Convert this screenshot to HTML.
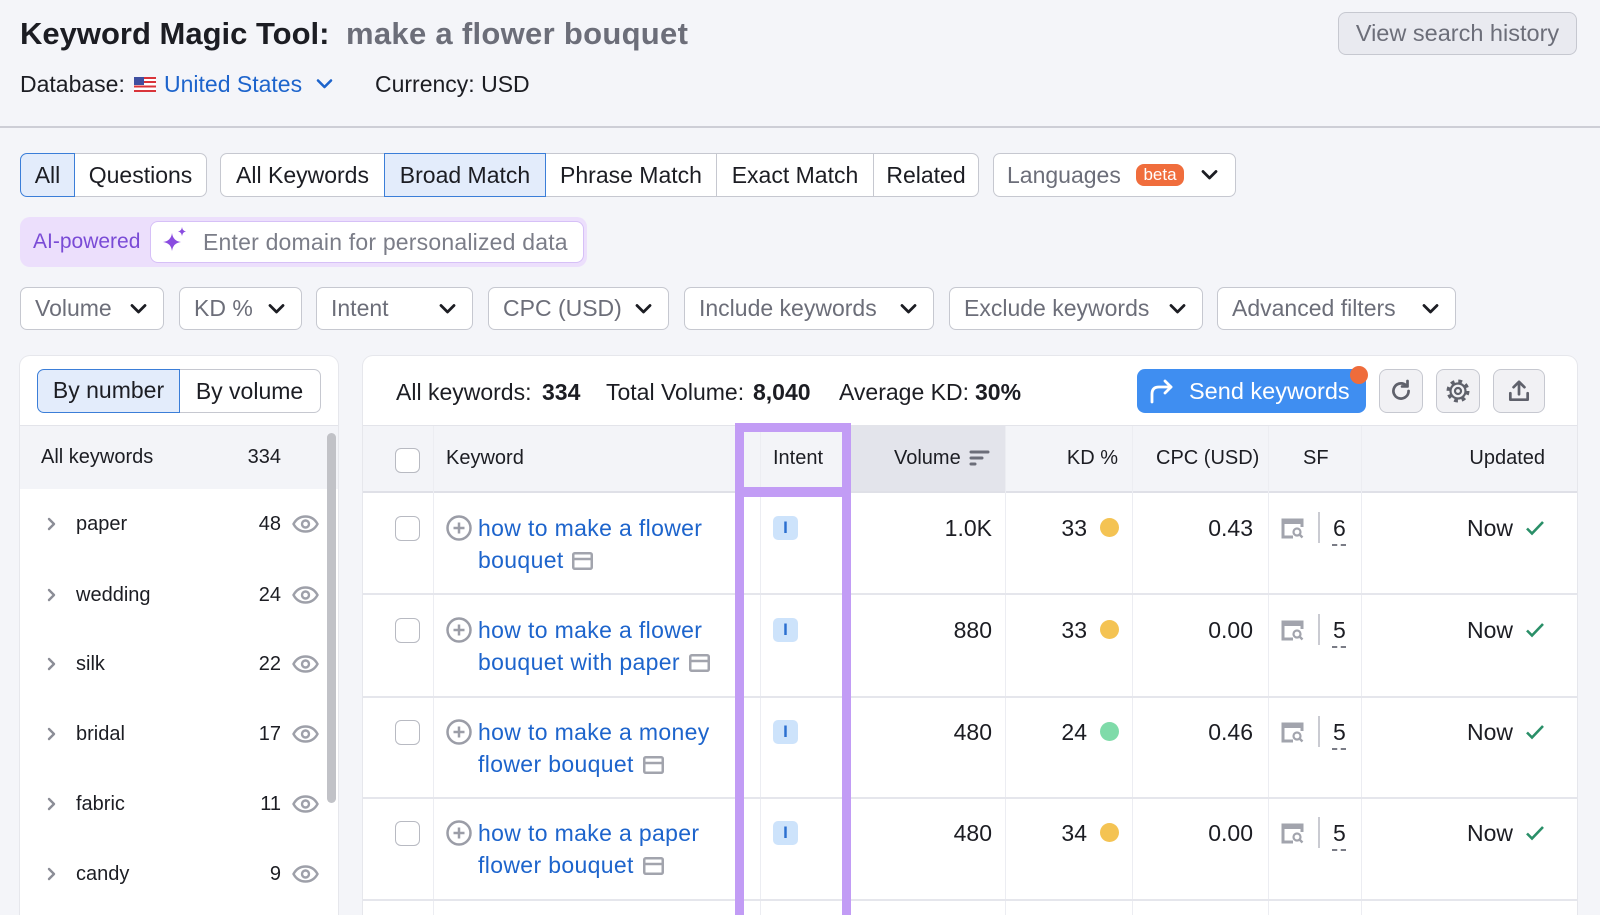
<!DOCTYPE html>
<html><head><meta charset="utf-8">
<style>
*{box-sizing:border-box;margin:0;padding:0}
html,body{width:1600px;height:915px;overflow:hidden;background:#f4f5f9;font-family:"Liberation Sans",Arial,sans-serif;color:#1c1d23}
#w{position:relative;width:1600px;height:915px;overflow:hidden}
.a{position:absolute;white-space:nowrap}
.t23{font-size:23px;height:30px;line-height:30px}
.t20{font-size:20px;height:28px;line-height:28px}
.g{color:#6c6e79}
.bl{color:#1d64cc}
.seg{position:absolute;top:153px;height:44px;background:#fff;border:1px solid #c6c8d0;font-size:23px;line-height:42px;text-align:center;white-space:nowrap}
.sel{background:#e3ecfb;border-color:#3b7ed8;z-index:2}
.fb{position:absolute;top:287px;height:43px;background:#fff;border:1px solid #c6c8d0;border-radius:7px;font-size:23px;line-height:41px;color:#6c6e79;padding-left:14px;white-space:nowrap}
.fb svg{position:absolute;right:16px;top:15px}
.cb{position:absolute;width:25px;height:25px;border:1.5px solid #b8bac2;border-radius:6px;background:#fff}
.vl{position:absolute;top:426px;width:1px;height:489px;background:#ecedf2}
.hl{position:absolute;left:363px;width:1214px;height:2px;background:#e5e6ec}
.ra{text-align:right;width:100px}
.badge{position:absolute;width:25px;height:24px;background:#cde3fb;border-radius:5px;color:#2b6fd0;font-weight:bold;font-size:17px;line-height:24px;text-align:center}
.dot{position:absolute;width:19px;height:19px;border-radius:50%}
.sfd{position:absolute;width:2px;height:31px;background:#cacbd2}
.dash{position:absolute;width:14px;border-top:2px dashed #7a7c86}
.ib{position:absolute;top:369px;height:44px;background:#f1f1f4;border:1px solid #c6c8d0;border-radius:8px}
.ib svg{position:absolute;left:50%;top:50%;transform:translate(-50%,-50%)}
</style></head><body><div id="w">

<!-- header -->
<div class="a" style="left:20px;top:16px;font-size:31px;font-weight:bold;line-height:36px;height:36px">Keyword Magic Tool:</div>
<div class="a g" style="left:346px;top:16px;font-size:31px;font-weight:bold;line-height:36px;height:36px;letter-spacing:0.3px">make a flower bouquet</div>
<div class="a" style="left:1338px;top:12px;width:239px;height:43px;background:#e9eaf0;border:1px solid #c6c8d0;border-radius:8px;text-align:center;font-size:23.5px;line-height:41px;color:#6c6e79">View search history</div>

<div class="a t23" style="left:20px;top:69px">Database:</div>
<svg class="a" style="left:134px;top:77px" width="22" height="15" viewBox="0 0 22 15">
<rect width="22" height="15" fill="#fff"/>
<g fill="#d9343a"><rect y="0" width="22" height="2"/><rect y="4" width="22" height="2"/><rect y="8.5" width="22" height="2"/><rect y="13" width="22" height="2"/></g>
<rect width="10" height="8" fill="#3f4fa0"/></svg>
<div class="a t23 bl" style="left:164px;top:69px">United States</div>
<svg class="a" style="left:316px;top:78px" width="17" height="12" viewBox="0 0 17 12"><path d="M2 2.5l6.5 6.5L15 2.5" fill="none" stroke="#1d64cc" stroke-width="2.6" stroke-linecap="round" stroke-linejoin="round"/></svg>
<div class="a t23" style="left:375px;top:69px">Currency: USD</div>

<div class="a" style="left:0;top:126px;width:1600px;height:2px;background:#cdced6"></div>

<!-- tabs -->
<div class="seg sel" style="left:20px;width:55px;border-radius:7px 0 0 7px">All</div>
<div class="seg" style="left:74px;width:133px;border-radius:0 7px 7px 0">Questions</div>
<div class="seg" style="left:220px;width:165px;border-radius:7px 0 0 7px">All Keywords</div>
<div class="seg sel" style="left:384px;width:162px">Broad Match</div>
<div class="seg" style="left:545px;width:172px">Phrase Match</div>
<div class="seg" style="left:716px;width:158px">Exact Match</div>
<div class="seg" style="left:873px;width:106px;border-radius:0 7px 7px 0">Related</div>
<div class="seg" style="left:993px;width:243px;border-radius:7px;text-align:left;padding-left:13px;color:#6c6e79">Languages</div>
<div class="a" style="left:1136px;top:164px;width:48px;height:22px;background:#f06d3c;border-radius:8px;color:#fff;font-size:17px;line-height:22px;text-align:center;z-index:3">beta</div>
<svg class="a" style="left:1201px;top:169px;z-index:3" width="17" height="12" viewBox="0 0 17 12"><path d="M2 2.5l6.5 6.5L15 2.5" fill="none" stroke="#1c1d23" stroke-width="2.8" stroke-linecap="round" stroke-linejoin="round"/></svg>

<!-- AI row -->
<div class="a" style="left:20px;top:217px;width:567px;height:50px;background:#ecdffc;border-radius:10px"></div>
<div class="a" style="left:150px;top:221px;width:434px;height:42px;background:#fff;border:1.5px solid #d6c0f7;border-radius:8px"></div>
<div class="a" style="left:33px;top:228px;font-size:21px;line-height:28px;height:28px;color:#7a4bd6">AI-powered</div>
<svg class="a" style="left:161px;top:225px" width="28" height="28" viewBox="0 0 28 28"><path d="M11 8Q12 16 20 17Q12 18 11 26Q10 18 2 17Q10 16 11 8Z" fill="#8a4ce0"/><path d="M21 2Q21.5 6 25 6.5Q21.5 7 21 11Q20.5 7 17 6.5Q20.5 6 21 2Z" fill="#8a4ce0"/></svg>
<div class="a t23" style="left:203px;top:227px;color:#7b7d88;letter-spacing:0.2px">Enter domain for personalized data</div>

<!-- filters -->
<div class="fb" style="left:20px;width:144px">Volume<svg width="17" height="12" viewBox="0 0 17 12"><path d="M2 2.5l6.5 6.5L15 2.5" fill="none" stroke="#1c1d23" stroke-width="2.8" stroke-linecap="round" stroke-linejoin="round"/></svg></div>
<div class="fb" style="left:179px;width:123px">KD %<svg width="17" height="12" viewBox="0 0 17 12"><path d="M2 2.5l6.5 6.5L15 2.5" fill="none" stroke="#1c1d23" stroke-width="2.8" stroke-linecap="round" stroke-linejoin="round"/></svg></div>
<div class="fb" style="left:316px;width:157px">Intent<svg width="17" height="12" viewBox="0 0 17 12"><path d="M2 2.5l6.5 6.5L15 2.5" fill="none" stroke="#1c1d23" stroke-width="2.8" stroke-linecap="round" stroke-linejoin="round"/></svg></div>
<div class="fb" style="left:488px;width:181px">CPC (USD)<svg width="17" height="12" viewBox="0 0 17 12"><path d="M2 2.5l6.5 6.5L15 2.5" fill="none" stroke="#1c1d23" stroke-width="2.8" stroke-linecap="round" stroke-linejoin="round"/></svg></div>
<div class="fb" style="left:684px;width:250px">Include keywords<svg width="17" height="12" viewBox="0 0 17 12"><path d="M2 2.5l6.5 6.5L15 2.5" fill="none" stroke="#1c1d23" stroke-width="2.8" stroke-linecap="round" stroke-linejoin="round"/></svg></div>
<div class="fb" style="left:949px;width:254px">Exclude keywords<svg width="17" height="12" viewBox="0 0 17 12"><path d="M2 2.5l6.5 6.5L15 2.5" fill="none" stroke="#1c1d23" stroke-width="2.8" stroke-linecap="round" stroke-linejoin="round"/></svg></div>
<div class="fb" style="left:1217px;width:239px">Advanced filters<svg width="17" height="12" viewBox="0 0 17 12"><path d="M2 2.5l6.5 6.5L15 2.5" fill="none" stroke="#1c1d23" stroke-width="2.8" stroke-linecap="round" stroke-linejoin="round"/></svg></div>

<!-- left panel -->
<div class="a" style="left:20px;top:356px;width:318px;height:600px;background:#fff;border-radius:10px;box-shadow:0 0 0 1px #e6e7ec"></div>
<div class="a sel" style="left:37px;top:369px;width:143px;height:44px;border:1.5px solid #3b7ed8;border-radius:7px 0 0 7px;font-size:23px;line-height:41px;text-align:center">By number</div>
<div class="a" style="left:179px;top:369px;width:142px;height:44px;border:1px solid #c6c8d0;border-left:none;border-radius:0 7px 7px 0;background:#fff;font-size:23px;line-height:42px;text-align:center">By volume</div>
<div class="a" style="left:20px;top:425px;width:318px;height:1px;background:#e3e4ea"></div>
<div class="a" style="left:20px;top:426px;width:318px;height:63px;background:#f3f4f8"></div>
<div class="a t20" style="left:41px;top:443px">All keywords</div>
<div class="a t20 ra" style="left:181px;top:443px">334</div>
<div class="a" style="left:327px;top:433px;width:9px;height:370px;background:#c1c2c7;border-radius:5px"></div>

<!-- list items -->
<svg class="a" style="left:46px;top:517px" width="12" height="14" viewBox="0 0 12 14"><path d="M3 2l5 5-5 5" fill="none" stroke="#8b8d96" stroke-width="2.4" stroke-linecap="round" stroke-linejoin="round"/></svg>
<div class="a t20" style="left:76px;top:510px">paper</div><div class="a t20 ra" style="left:181px;top:510px">48</div>
<svg class="a" style="left:292px;top:515px" width="27" height="18" viewBox="0 0 27 18"><path d="M1.5 9C4.5 3.5 8.5 1.5 13.5 1.5S22.5 3.5 25.5 9C22.5 14.5 18.5 16.5 13.5 16.5S4.5 14.5 1.5 9Z" fill="none" stroke="#9ea0a9" stroke-width="2.4"/><circle cx="13.5" cy="9" r="3.5" fill="none" stroke="#9ea0a9" stroke-width="2.4"/></svg>

<svg class="a" style="left:46px;top:588px" width="12" height="14" viewBox="0 0 12 14"><path d="M3 2l5 5-5 5" fill="none" stroke="#8b8d96" stroke-width="2.4" stroke-linecap="round" stroke-linejoin="round"/></svg>
<div class="a t20" style="left:76px;top:581px">wedding</div><div class="a t20 ra" style="left:181px;top:581px">24</div>
<svg class="a" style="left:292px;top:586px" width="27" height="18" viewBox="0 0 27 18"><path d="M1.5 9C4.5 3.5 8.5 1.5 13.5 1.5S22.5 3.5 25.5 9C22.5 14.5 18.5 16.5 13.5 16.5S4.5 14.5 1.5 9Z" fill="none" stroke="#9ea0a9" stroke-width="2.4"/><circle cx="13.5" cy="9" r="3.5" fill="none" stroke="#9ea0a9" stroke-width="2.4"/></svg>

<svg class="a" style="left:46px;top:657px" width="12" height="14" viewBox="0 0 12 14"><path d="M3 2l5 5-5 5" fill="none" stroke="#8b8d96" stroke-width="2.4" stroke-linecap="round" stroke-linejoin="round"/></svg>
<div class="a t20" style="left:76px;top:650px">silk</div><div class="a t20 ra" style="left:181px;top:650px">22</div>
<svg class="a" style="left:292px;top:655px" width="27" height="18" viewBox="0 0 27 18"><path d="M1.5 9C4.5 3.5 8.5 1.5 13.5 1.5S22.5 3.5 25.5 9C22.5 14.5 18.5 16.5 13.5 16.5S4.5 14.5 1.5 9Z" fill="none" stroke="#9ea0a9" stroke-width="2.4"/><circle cx="13.5" cy="9" r="3.5" fill="none" stroke="#9ea0a9" stroke-width="2.4"/></svg>

<svg class="a" style="left:46px;top:727px" width="12" height="14" viewBox="0 0 12 14"><path d="M3 2l5 5-5 5" fill="none" stroke="#8b8d96" stroke-width="2.4" stroke-linecap="round" stroke-linejoin="round"/></svg>
<div class="a t20" style="left:76px;top:720px">bridal</div><div class="a t20 ra" style="left:181px;top:720px">17</div>
<svg class="a" style="left:292px;top:725px" width="27" height="18" viewBox="0 0 27 18"><path d="M1.5 9C4.5 3.5 8.5 1.5 13.5 1.5S22.5 3.5 25.5 9C22.5 14.5 18.5 16.5 13.5 16.5S4.5 14.5 1.5 9Z" fill="none" stroke="#9ea0a9" stroke-width="2.4"/><circle cx="13.5" cy="9" r="3.5" fill="none" stroke="#9ea0a9" stroke-width="2.4"/></svg>

<svg class="a" style="left:46px;top:797px" width="12" height="14" viewBox="0 0 12 14"><path d="M3 2l5 5-5 5" fill="none" stroke="#8b8d96" stroke-width="2.4" stroke-linecap="round" stroke-linejoin="round"/></svg>
<div class="a t20" style="left:76px;top:790px">fabric</div><div class="a t20 ra" style="left:181px;top:790px">11</div>
<svg class="a" style="left:292px;top:795px" width="27" height="18" viewBox="0 0 27 18"><path d="M1.5 9C4.5 3.5 8.5 1.5 13.5 1.5S22.5 3.5 25.5 9C22.5 14.5 18.5 16.5 13.5 16.5S4.5 14.5 1.5 9Z" fill="none" stroke="#9ea0a9" stroke-width="2.4"/><circle cx="13.5" cy="9" r="3.5" fill="none" stroke="#9ea0a9" stroke-width="2.4"/></svg>

<svg class="a" style="left:46px;top:867px" width="12" height="14" viewBox="0 0 12 14"><path d="M3 2l5 5-5 5" fill="none" stroke="#8b8d96" stroke-width="2.4" stroke-linecap="round" stroke-linejoin="round"/></svg>
<div class="a t20" style="left:76px;top:860px">candy</div><div class="a t20 ra" style="left:181px;top:860px">9</div>
<svg class="a" style="left:292px;top:865px" width="27" height="18" viewBox="0 0 27 18"><path d="M1.5 9C4.5 3.5 8.5 1.5 13.5 1.5S22.5 3.5 25.5 9C22.5 14.5 18.5 16.5 13.5 16.5S4.5 14.5 1.5 9Z" fill="none" stroke="#9ea0a9" stroke-width="2.4"/><circle cx="13.5" cy="9" r="3.5" fill="none" stroke="#9ea0a9" stroke-width="2.4"/></svg>

<!-- right panel -->
<div class="a" style="left:363px;top:356px;width:1214px;height:600px;background:#fff;border-radius:10px;box-shadow:0 0 0 1px #e6e7ec"></div>
<div class="a t23" style="left:396px;top:377px">All keywords:</div>
<div class="a t23" style="left:542px;top:377px;font-weight:bold">334</div>
<div class="a t23" style="left:606px;top:377px">Total Volume:</div>
<div class="a t23" style="left:753px;top:377px;font-weight:bold">8,040</div>
<div class="a t23" style="left:839px;top:377px">Average KD:</div>
<div class="a t23" style="left:975px;top:377px;font-weight:bold">30%</div>

<div class="a" style="left:1137px;top:369px;width:229px;height:44px;background:#3f8ef1;border-radius:8px"></div>
<svg class="a" style="left:1148px;top:378px" width="28" height="26" viewBox="0 0 28 26"><path d="M4 24V16Q4 9 11 9H23" fill="none" stroke="#fff" stroke-width="2.8" stroke-linecap="round"/><path d="M17 3l6 6-6 6" fill="none" stroke="#fff" stroke-width="2.8" stroke-linecap="round" stroke-linejoin="round"/></svg>
<div class="a" style="left:1189px;top:376px;font-size:23.5px;line-height:30px;color:#fff">Send keywords</div>
<div class="a" style="left:1350px;top:366px;width:18px;height:18px;border-radius:50%;background:#ef6c3b"></div>

<div class="ib" style="left:1379px;width:44px"><svg width="26" height="26" viewBox="0 0 24 24"><path d="M19 12a7 7 0 1 1-2.2-5.1" fill="none" stroke="#5f616b" stroke-width="2.5" stroke-linecap="round"/><path d="M18 2.8v5h-5" fill="none" stroke="#5f616b" stroke-width="2.5" stroke-linecap="round" stroke-linejoin="round"/></svg></div>
<div class="ib" style="left:1436px;width:44px"><svg width="26" height="26" viewBox="0 0 26 26"><circle cx="13" cy="13" r="9.5" fill="none" stroke="#5f616b" stroke-width="4" stroke-dasharray="3.7 3.76"/><circle cx="13" cy="13" r="7.5" fill="#f1f1f4" stroke="#5f616b" stroke-width="2.2"/><circle cx="13" cy="13" r="3" fill="none" stroke="#5f616b" stroke-width="2.2"/></svg></div>
<div class="ib" style="left:1493px;width:52px"><svg width="26" height="26" viewBox="0 0 24 24"><path d="M12 15V4M7 8.5l5-5 5 5" fill="none" stroke="#5f616b" stroke-width="2.5" stroke-linecap="round" stroke-linejoin="round"/><path d="M4 14v6h16v-6" fill="none" stroke="#5f616b" stroke-width="2.5" stroke-linecap="round" stroke-linejoin="round"/></svg></div>

<!-- table header -->
<div class="a" style="left:363px;top:425px;width:1214px;height:1px;background:#e3e4ea"></div>
<div class="a" style="left:363px;top:426px;width:1214px;height:66px;background:#f3f4f8"></div>
<div class="a" style="left:851px;top:426px;width:154px;height:66px;background:#e3e4eb"></div>
<div class="a" style="left:363px;top:491px;width:1214px;height:2px;background:#dfe0e7"></div>

<div class="vl" style="left:433px"></div>
<div class="vl" style="left:760px"></div>
<div class="vl" style="left:1005px"></div>
<div class="vl" style="left:1132px"></div>
<div class="vl" style="left:1268px"></div>
<div class="vl" style="left:1361px"></div>

<div class="cb" style="left:395px;top:448px"></div>
<div class="a t20" style="left:446px;top:444px">Keyword</div>
<div class="a t20" style="left:773px;top:444px">Intent</div>
<div class="a t20" style="left:894px;top:444px">Volume</div>
<svg class="a" style="left:969px;top:449px" width="21" height="18" viewBox="0 0 21 18"><path d="M2 3h17M2 9h11M2 15h4" stroke="#6c6e79" stroke-width="3" stroke-linecap="round"/></svg>
<div class="a t20 ra" style="left:1018px;top:444px">KD %</div>
<div class="a t20" style="left:1156px;top:444px">CPC (USD)</div>
<div class="a t20" style="left:1303px;top:444px">SF</div>
<div class="a t20 ra" style="left:1445px;top:444px">Updated</div>

<!-- row dividers -->
<div class="hl" style="top:593px"></div>
<div class="hl" style="top:696px"></div>
<div class="hl" style="top:797px"></div>
<div class="hl" style="top:899px"></div>

<!-- row 1 -->
<div class="cb" style="left:395px;top:516px"></div>
<svg class="a" style="left:446px;top:515px" width="26" height="26" viewBox="0 0 26 26"><circle cx="13" cy="13" r="11.5" fill="none" stroke="#9b9da7" stroke-width="2.5"/><path d="M13 7.5v11M7.5 13h11" stroke="#9b9da7" stroke-width="2.5"/></svg>
<div class="a t23 bl" style="left:478px;top:513px;letter-spacing:0.35px">how to make a flower</div>
<div class="a t23 bl" style="left:478px;top:545px;letter-spacing:0.35px">bouquet <svg style="vertical-align:-2px;margin-left:2px" width="21" height="18" viewBox="0 0 21 18"><rect x="1.25" y="1.25" width="18.5" height="15.5" rx="1.5" fill="none" stroke="#a2a4ad" stroke-width="2.5"/><path d="M1 7h19" stroke="#a2a4ad" stroke-width="2.5"/></svg></div>
<div class="badge" style="left:773px;top:516px">I</div>
<div class="a t23 ra" style="left:892px;top:513px">1.0K</div>
<div class="a t23 ra" style="left:987px;top:513px">33</div>
<div class="dot" style="left:1100px;top:518px;background:#f4c353"></div>
<div class="a t23 ra" style="left:1153px;top:513px">0.43</div>
<svg class="a" style="left:1280px;top:518px" width="25" height="21" viewBox="0 0 25 21"><path d="M13 19H3V2h19v7" fill="none" stroke="#a2a4ad" stroke-width="3"/><rect x="3" y="2" width="19" height="4" fill="#a2a4ad"/><circle cx="17" cy="14" r="3.5" fill="none" stroke="#a2a4ad" stroke-width="2.2"/><path d="M19.5 16.5l3 3" stroke="#a2a4ad" stroke-width="2.4"/></svg>
<div class="sfd" style="left:1318px;top:512px"></div>
<div class="a t23" style="left:1333px;top:513px">6</div>
<div class="dash" style="left:1332px;top:544px"></div>
<div class="a t23" style="left:1467px;top:513px">Now</div>
<svg class="a" style="left:1525px;top:519px" width="20" height="18" viewBox="0 0 20 18"><path d="M2 9.5l5 5L18 3" fill="none" stroke="#2a8f68" stroke-width="2.6"/></svg>

<!-- row 2 -->
<div class="cb" style="left:395px;top:618px"></div>
<svg class="a" style="left:446px;top:617px" width="26" height="26" viewBox="0 0 26 26"><circle cx="13" cy="13" r="11.5" fill="none" stroke="#9b9da7" stroke-width="2.5"/><path d="M13 7.5v11M7.5 13h11" stroke="#9b9da7" stroke-width="2.5"/></svg>
<div class="a t23 bl" style="left:478px;top:615px;letter-spacing:0.35px">how to make a flower</div>
<div class="a t23 bl" style="left:478px;top:647px;letter-spacing:0.35px">bouquet with paper <svg style="vertical-align:-2px;margin-left:2px" width="21" height="18" viewBox="0 0 21 18"><rect x="1.25" y="1.25" width="18.5" height="15.5" rx="1.5" fill="none" stroke="#a2a4ad" stroke-width="2.5"/><path d="M1 7h19" stroke="#a2a4ad" stroke-width="2.5"/></svg></div>
<div class="badge" style="left:773px;top:618px">I</div>
<div class="a t23 ra" style="left:892px;top:615px">880</div>
<div class="a t23 ra" style="left:987px;top:615px">33</div>
<div class="dot" style="left:1100px;top:620px;background:#f4c353"></div>
<div class="a t23 ra" style="left:1153px;top:615px">0.00</div>
<svg class="a" style="left:1280px;top:620px" width="25" height="21" viewBox="0 0 25 21"><path d="M13 19H3V2h19v7" fill="none" stroke="#a2a4ad" stroke-width="3"/><rect x="3" y="2" width="19" height="4" fill="#a2a4ad"/><circle cx="17" cy="14" r="3.5" fill="none" stroke="#a2a4ad" stroke-width="2.2"/><path d="M19.5 16.5l3 3" stroke="#a2a4ad" stroke-width="2.4"/></svg>
<div class="sfd" style="left:1318px;top:614px"></div>
<div class="a t23" style="left:1333px;top:615px">5</div>
<div class="dash" style="left:1332px;top:646px"></div>
<div class="a t23" style="left:1467px;top:615px">Now</div>
<svg class="a" style="left:1525px;top:621px" width="20" height="18" viewBox="0 0 20 18"><path d="M2 9.5l5 5L18 3" fill="none" stroke="#2a8f68" stroke-width="2.6"/></svg>

<!-- row 3 -->
<div class="cb" style="left:395px;top:720px"></div>
<svg class="a" style="left:446px;top:719px" width="26" height="26" viewBox="0 0 26 26"><circle cx="13" cy="13" r="11.5" fill="none" stroke="#9b9da7" stroke-width="2.5"/><path d="M13 7.5v11M7.5 13h11" stroke="#9b9da7" stroke-width="2.5"/></svg>
<div class="a t23 bl" style="left:478px;top:717px;letter-spacing:0.35px">how to make a money</div>
<div class="a t23 bl" style="left:478px;top:749px;letter-spacing:0.35px">flower bouquet <svg style="vertical-align:-2px;margin-left:2px" width="21" height="18" viewBox="0 0 21 18"><rect x="1.25" y="1.25" width="18.5" height="15.5" rx="1.5" fill="none" stroke="#a2a4ad" stroke-width="2.5"/><path d="M1 7h19" stroke="#a2a4ad" stroke-width="2.5"/></svg></div>
<div class="badge" style="left:773px;top:720px">I</div>
<div class="a t23 ra" style="left:892px;top:717px">480</div>
<div class="a t23 ra" style="left:987px;top:717px">24</div>
<div class="dot" style="left:1100px;top:722px;background:#7fdba9"></div>
<div class="a t23 ra" style="left:1153px;top:717px">0.46</div>
<svg class="a" style="left:1280px;top:722px" width="25" height="21" viewBox="0 0 25 21"><path d="M13 19H3V2h19v7" fill="none" stroke="#a2a4ad" stroke-width="3"/><rect x="3" y="2" width="19" height="4" fill="#a2a4ad"/><circle cx="17" cy="14" r="3.5" fill="none" stroke="#a2a4ad" stroke-width="2.2"/><path d="M19.5 16.5l3 3" stroke="#a2a4ad" stroke-width="2.4"/></svg>
<div class="sfd" style="left:1318px;top:716px"></div>
<div class="a t23" style="left:1333px;top:717px">5</div>
<div class="dash" style="left:1332px;top:748px"></div>
<div class="a t23" style="left:1467px;top:717px">Now</div>
<svg class="a" style="left:1525px;top:723px" width="20" height="18" viewBox="0 0 20 18"><path d="M2 9.5l5 5L18 3" fill="none" stroke="#2a8f68" stroke-width="2.6"/></svg>

<!-- row 4 -->
<div class="cb" style="left:395px;top:821px"></div>
<svg class="a" style="left:446px;top:820px" width="26" height="26" viewBox="0 0 26 26"><circle cx="13" cy="13" r="11.5" fill="none" stroke="#9b9da7" stroke-width="2.5"/><path d="M13 7.5v11M7.5 13h11" stroke="#9b9da7" stroke-width="2.5"/></svg>
<div class="a t23 bl" style="left:478px;top:818px;letter-spacing:0.35px">how to make a paper</div>
<div class="a t23 bl" style="left:478px;top:850px;letter-spacing:0.35px">flower bouquet <svg style="vertical-align:-2px;margin-left:2px" width="21" height="18" viewBox="0 0 21 18"><rect x="1.25" y="1.25" width="18.5" height="15.5" rx="1.5" fill="none" stroke="#a2a4ad" stroke-width="2.5"/><path d="M1 7h19" stroke="#a2a4ad" stroke-width="2.5"/></svg></div>
<div class="badge" style="left:773px;top:821px">I</div>
<div class="a t23 ra" style="left:892px;top:818px">480</div>
<div class="a t23 ra" style="left:987px;top:818px">34</div>
<div class="dot" style="left:1100px;top:823px;background:#f4c353"></div>
<div class="a t23 ra" style="left:1153px;top:818px">0.00</div>
<svg class="a" style="left:1280px;top:823px" width="25" height="21" viewBox="0 0 25 21"><path d="M13 19H3V2h19v7" fill="none" stroke="#a2a4ad" stroke-width="3"/><rect x="3" y="2" width="19" height="4" fill="#a2a4ad"/><circle cx="17" cy="14" r="3.5" fill="none" stroke="#a2a4ad" stroke-width="2.2"/><path d="M19.5 16.5l3 3" stroke="#a2a4ad" stroke-width="2.4"/></svg>
<div class="sfd" style="left:1318px;top:817px"></div>
<div class="a t23" style="left:1333px;top:818px">5</div>
<div class="dash" style="left:1332px;top:849px"></div>
<div class="a t23" style="left:1467px;top:818px">Now</div>
<svg class="a" style="left:1525px;top:824px" width="20" height="18" viewBox="0 0 20 18"><path d="M2 9.5l5 5L18 3" fill="none" stroke="#2a8f68" stroke-width="2.6"/></svg>

<!-- purple highlight frame -->
<div class="a" style="left:735px;top:423px;width:116px;height:520px;border:9px solid #c29cf5;z-index:5"></div>
<div class="a" style="left:735px;top:487px;width:116px;height:10px;background:#c29cf5;z-index:5"></div>

</div></body></html>
